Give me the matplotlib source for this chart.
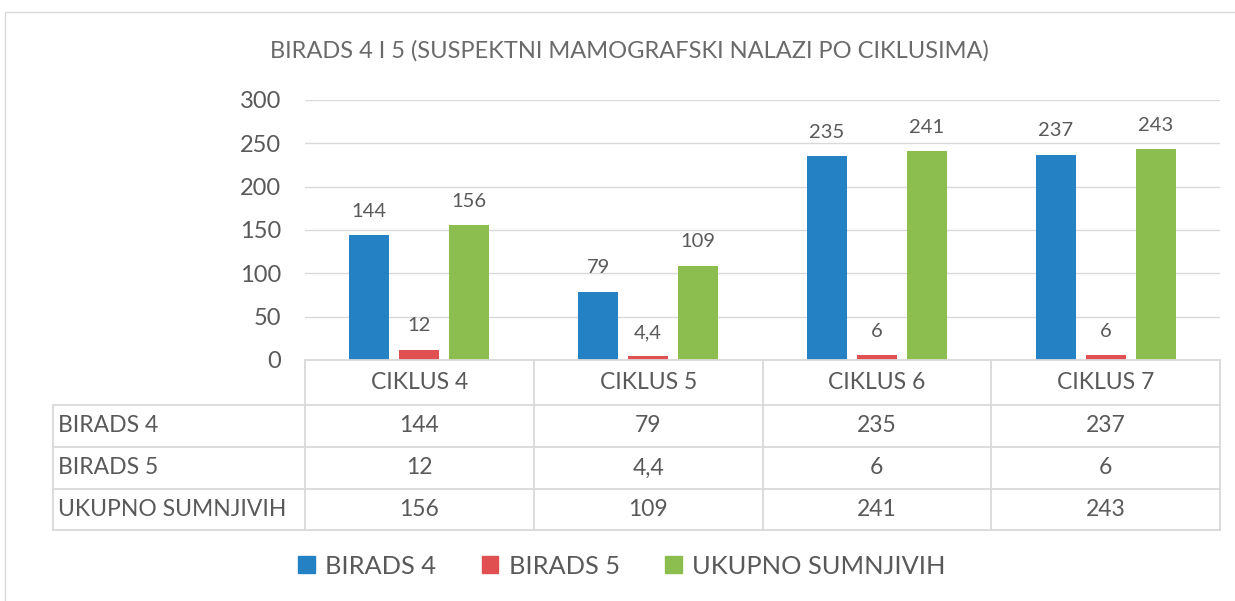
import matplotlib.pyplot as plt
from matplotlib.lines import Line2D
from matplotlib.patches import Patch, Rectangle
import numpy as np

categories = ["CIKLUS 4", "CIKLUS 5", "CIKLUS 6", "CIKLUS 7"]
series_names = ["BIRADS 4", "BIRADS 5", "UKUPNO SUMNJIVIH"]
birads4 = [144, 79, 235, 237]
birads5 = [12, 4.4, 6, 6]
ukupno = [156, 109, 241, 243]
colors = ["#2481C3", "#E05050", "#8CBD4F"]
title = "BIRADS 4 I 5 (SUSPEKTNI MAMOGRAFSKI NALAZI PO CIKLUSIMA)"

W, H = 1235, 601
txt = "#595959"
grid = "#D9D9D9"
plt.rcParams['font.family'] = ['Lato', 'DejaVu Sans']

fig = plt.figure(figsize=(W / 100, H / 100), dpi=100)


def fx(px):
    return px / W


def fy(py):
    return 1 - py / H


def fmt(v):
    return f"{v:g}".replace('.', ',')


# outer chart border
fig.patches.append(Rectangle((fx(5), fy(640)), fx(1300), fy(12) - fy(640), transform=fig.transFigure,
                             fill=False, edgecolor=grid, lw=1))

fig.text(fx(629), fy(51), title, ha='center', va='center', fontsize=17, color="#6a6a6a")

# plot area
left, right, top, base = 305, 1220, 100, 360
ax = fig.add_axes([fx(left), fy(base), fx(right - left), fy(top) - fy(base)])
data = [birads4, birads5, ukupno]
x = np.arange(len(categories))
step = 0.2186
for i, vals in enumerate(data):
    bars = ax.bar(x + (i - 1) * step, vals, width=0.175, color=colors[i], zorder=3)
    for b, v in zip(bars, vals):
        ax.annotate(fmt(v), (b.get_x() + b.get_width() / 2, v), xytext=(0, 11), textcoords='offset points',
                    ha='center', va='bottom', fontsize=14.5, color=txt)

ax.set_xlim(-0.5, 3.5)
ax.set_ylim(0, 300)
ax.set_yticks(range(0, 301, 50))
ax.tick_params(axis='y', length=0, labelsize=17, labelcolor=txt, pad=17)
ax.set_xticks([])
ax.grid(axis='y', color=grid, lw=1, zorder=0)
for s in ax.spines.values():
    s.set_visible(False)

# data table below the axes
col_w = (right - left) / len(categories)
rows_y = [360, 405, 447, 489, 530]
lines = []
lines.append(((left, right), (rows_y[0], rows_y[0])))
for y in rows_y[1:]:
    lines.append(((53, right), (y, y)))
for j in range(len(categories) + 1):
    xx = left + j * col_w
    lines.append(((xx, xx), (rows_y[0], rows_y[-1])))
lines.append(((53, 53), (rows_y[1], rows_y[-1])))
for (x0, x1), (y0, y1) in lines:
    fig.add_artist(Line2D([fx(x0), fx(x1)], [fy(y0), fy(y1)], color=grid, lw=1.3, transform=fig.transFigure))

for j, c in enumerate(categories):
    cx = left + (j + 0.5) * col_w
    fig.text(fx(cx), fy((rows_y[0] + rows_y[1]) / 2), c, ha='center', va='center', fontsize=16.5, color=txt)
for r, (name, vals) in enumerate(zip(series_names, data)):
    cy = (rows_y[r + 1] + rows_y[r + 2]) / 2
    fig.text(fx(58), fy(cy), name, ha='left', va='center', fontsize=16.5, color=txt)
    for j, v in enumerate(vals):
        cx = left + (j + 0.5) * col_w
        fig.text(fx(cx), fy(cy), fmt(v), ha='center', va='center', fontsize=16.5, color=txt)

handles = [Patch(color=c) for c in colors]
fig.legend(handles, series_names, loc='center', bbox_to_anchor=(fx(622), fy(566)), ncol=3, frameon=False,
           fontsize=18.3, labelcolor=txt, handlelength=0.65, handleheight=0.65, handletextpad=0.4, columnspacing=1.8)

fig.savefig("out.png", dpi=100)
